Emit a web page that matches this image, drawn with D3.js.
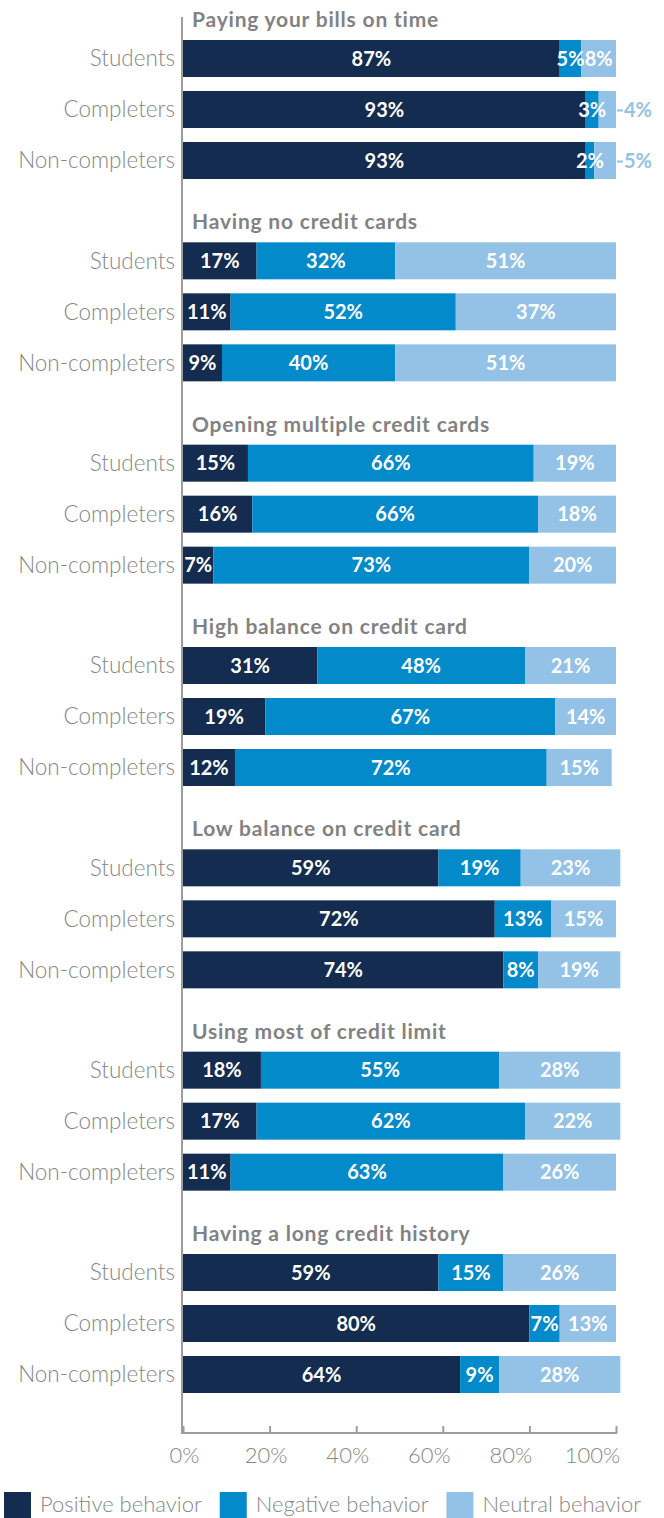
<!DOCTYPE html>
<html>
<head>
<meta charset="utf-8">
<script src="https://cdn.jsdelivr.net/npm/d3@7/dist/d3.min.js"></script>
<style>
  html, body { margin: 0; padding: 0; background: #ffffff; }
  svg { display: block; }
</style>
</head>
<body>
<svg id="chart" width="664" height="1518"></svg>
<script>
// ---------------- DATA ----------------
const groups = [
  "Paying your bills on time",
  "Having no credit cards",
  "Opening multiple credit cards",
  "High balance on credit card",
  "Low balance on credit card",
  "Using most of credit limit",
  "Having a long credit history"
];
const rowsLabels = ["Students", "Completers", "Non-completers"];
const seriesNames = ["Positive behavior", "Negative behavior", "Neutral behavior"];

// values per group, per row: [Students, Completers, Non-completers]
const positive = [
  [87, 93, 93],
  [17, 11, 9],
  [15, 16, 7],
  [31, 19, 12],
  [59, 72, 74],
  [18, 17, 11],
  [59, 80, 64]
];
const negative = [
  [5, 3, 2],
  [32, 52, 40],
  [66, 66, 73],
  [48, 67, 72],
  [19, 13, 8],
  [55, 62, 63],
  [15, 7, 9]
];
const neutral = [
  [8, 4, 5],
  [51, 37, 51],
  [19, 18, 20],
  [21, 14, 15],
  [23, 15, 19],
  [28, 22, 26],
  [26, 13, 28]
];
const xTicks = [0, 20, 40, 60, 80, 100];

// ---------------- STYLE / LAYOUT ----------------
const colors = ["#132c4f", "#028acb", "#93c2e6"];
const grey = "#858688";
const titleGrey = "#828284";
const svg = d3.select("#chart");

const xLeft = 183, xRight = 616;
const axisY = 1433;
const x = d3.scaleLinear().domain([0, 100]).range([xLeft, xRight]);
// tick labels in the original sit on a slightly compressed spacing
const xLabel = d3.scaleLinear().domain([0, 100]).range([184, 592]);

const groupY = d3.scaleLinear().domain([0, groups.length - 1]).range([40, 1254]);
const rowY = d3.scaleBand().domain(rowsLabels).range([0, 139]).paddingInner(14 / 51).paddingOuter(0);

// Build table
const table = [];
groups.forEach((g, gi) => {
  rowsLabels.forEach((r, ri) => {
    const vals = [positive[gi][ri], negative[gi][ri], neutral[gi][ri]];
    let cum = 0;
    const segs = vals.map((v, si) => {
      const s = { group: gi, row: r, series: si, v, x0: cum, x1: cum + v };
      cum += v;
      return s;
    });
    table.push({ group: gi, row: r, segs });
  });
});

const font = "Lato, 'Open Sans', sans-serif";

// group titles
svg.append("g").selectAll("text").data(groups).join("text")
  .attr("x", 192)
  .attr("y", (d, i) => groupY(i) - 13)
  .attr("font-family", font)
  .attr("font-weight", 700)
  .attr("font-size", 21)
  .attr("letter-spacing", 0.8)
  .attr("fill", titleGrey)
  .text(d => d);

// category labels
svg.append("g").selectAll("text").data(table).join("text")
  .attr("x", 175)
  .attr("y", d => groupY(d.group) + rowY(d.row) + rowY.bandwidth() / 2)
  .attr("dy", "0.35em")
  .attr("text-anchor", "end")
  .attr("font-family", font)
  .attr("font-weight", 300)
  .attr("font-size", 22.5)
  .attr("fill", grey)
  .text(d => d.row);

// bars
const allSegs = table.flatMap(d => d.segs);
svg.append("g").selectAll("rect").data(allSegs).join("rect")
  .attr("x", d => x(d.x0))
  .attr("width", d => x(d.x1) - x(d.x0))
  .attr("y", d => groupY(d.group) + rowY(d.row))
  .attr("height", rowY.bandwidth())
  .attr("fill", d => colors[d.series]);

// value labels
const isOutside = d => d.series === 2 && d.v <= 5;
const lblG = svg.append("g");
lblG.selectAll("text").data(allSegs).join("text")
  .attr("x", d => isOutside(d) ? x(d.x1) + 8 : (x(d.x0) + x(d.x1)) / 2)
  .attr("y", d => groupY(d.group) + rowY(d.row) + rowY.bandwidth() / 2)
  .attr("dy", "0.36em")
  .attr("text-anchor", d => isOutside(d) ? "start" : "middle")
  .attr("font-family", font)
  .attr("font-weight", 700)
  .attr("font-size", 20)
  .attr("fill", d => isOutside(d) ? colors[2] : "#ffffff")
  .text(d => d.v + "%");
lblG.selectAll("line").data(allSegs.filter(isOutside)).join("line")
  .attr("x1", d => x(d.x1) + 1)
  .attr("x2", d => x(d.x1) + 7)
  .attr("y1", d => groupY(d.group) + rowY(d.row) + rowY.bandwidth() / 2 + 1)
  .attr("y2", d => groupY(d.group) + rowY(d.row) + rowY.bandwidth() / 2 + 1)
  .attr("stroke", colors[2])
  .attr("stroke-width", 2);

// vertical axis line
svg.append("line")
  .attr("x1", xLeft - 1).attr("x2", xLeft - 1)
  .attr("y1", 17).attr("y2", axisY)
  .attr("stroke", "#9d9d9f").attr("stroke-width", 2);

// x axis
const xAxis = d3.axisTop(x).tickValues(xTicks).tickSize(7).tickFormat(d => d + "%");
const ax = svg.append("g").attr("transform", `translate(0,${axisY})`).call(xAxis);
ax.select(".domain").remove();
ax.append("line").attr("x1", xLeft - 2).attr("x2", xRight + 1).attr("y1", 0).attr("y2", 0)
  .attr("stroke", "#9d9d9f").attr("stroke-width", 2);
ax.selectAll(".tick line").attr("stroke", "#9d9d9f").attr("stroke-width", 2);
ax.selectAll(".tick text")
  .attr("y", 22).attr("dy", "0.35em")
  .attr("x", d => xLabel(d) - x(d))
  .attr("font-family", font).attr("font-weight", 300)
  .attr("font-size", 22).attr("fill", grey);

// legend
const legend = svg.append("g").attr("transform", "translate(4,1492)");
let lx = 0;
seriesNames.forEach((name, i) => {
  const g = legend.append("g").attr("transform", `translate(${lx},0)`);
  g.append("rect").attr("width", 27).attr("height", 27).attr("fill", colors[i]);
  const t = g.append("text")
    .attr("x", 36).attr("y", 20)
    .attr("font-family", font).attr("font-weight", 300)
    .attr("font-size", 22).attr("fill", grey)
    .text(name);
  const w = t.node().getComputedTextLength();
  lx += 36 + w + 18;
});
</script>
</body>
</html>
